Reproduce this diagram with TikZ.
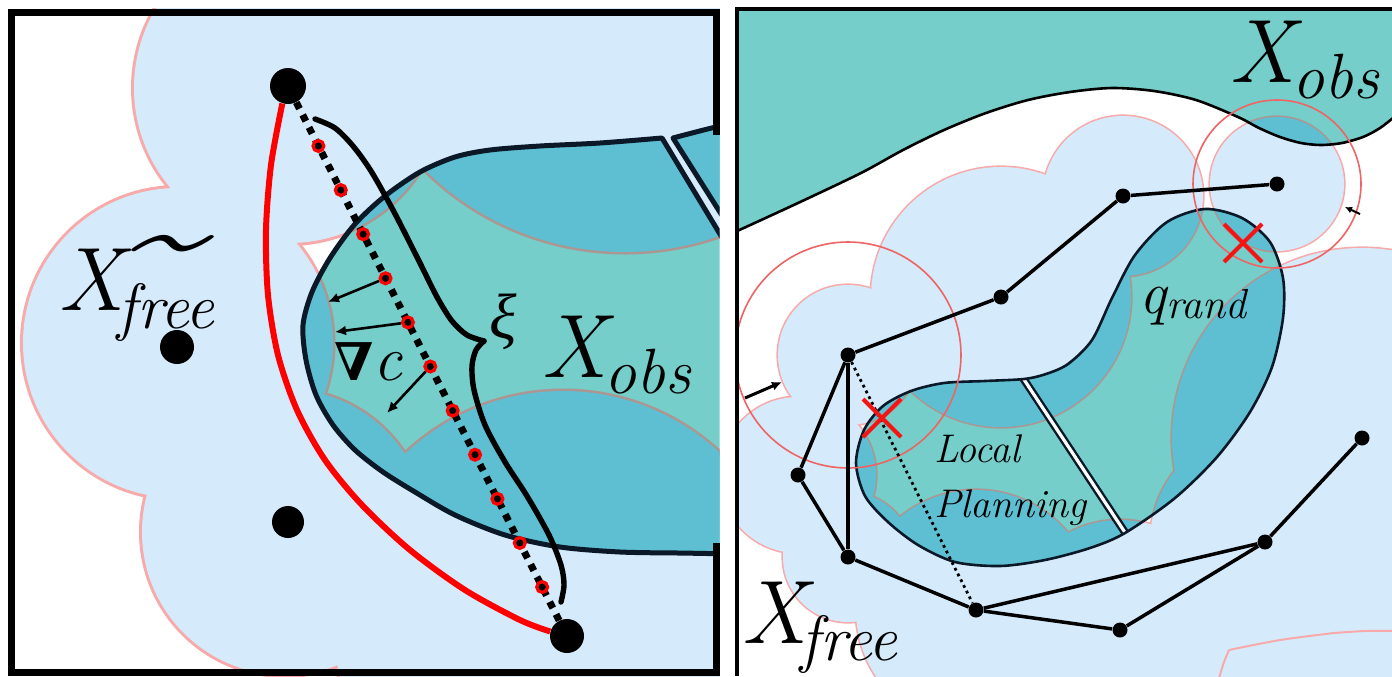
\documentclass[tikz,border=0pt]{standalone}
\usepackage{fontspec}
\usepackage{graphicx}
\newfontfamily\dejavuserif{DejaVu Serif}
\newfontfamily\libserif{Liberation Serif}
\usetikzlibrary{calc,arrows.meta,shapes.misc}
\definecolor{cloudblue}{RGB}{213,235,252}
\definecolor{cloudpink}{RGB}{248,170,170}
\definecolor{obsteal}{RGB}{117,206,201}
\definecolor{obscov}{RGB}{94,191,210}
\definecolor{arcbrown}{RGB}{172,150,146}
\definecolor{obsnavy}{RGB}{10,24,40}
\definecolor{ringred}{RGB}{238,100,100}
\definecolor{xred}{RGB}{245,20,20}
\tikzset{
 bigdot/.style={circle, fill=black, inner sep=0pt},
 gdot/.style={circle, fill=black, inner sep=0pt, minimum size=7.5pt},
 ringdot/.style={circle, fill=black, draw=red, line width=1.6pt, inner sep=0pt, minimum size=5.4pt},
 graphedge/.style={line width=1.75pt},
 dottededge/.style={line width=1.4pt, dash pattern=on 1.4pt off 1.8pt},
 sqdots/.style={line width=3.5pt, dash pattern=on 3.5pt off 3.5pt},
 redpath/.style={draw=red, line width=3pt},
 bracestyle/.style={line width=2.7pt, line cap=round, line join=round},
 gradarrow/.style={line width=1.3pt, -{Latex[length=5.5pt,width=5pt]}},
 pusharrow/.style={line width=1.5pt, -{Latex[length=5pt,width=4.5pt]}},
 tinyarrow/.style={line width=1pt, -{Latex[length=3.5pt,width=3.5pt]}},
 xmark/.style={cross out, draw=xred, line width=2pt, minimum size=17pt, inner sep=0pt},
 redring/.style={draw=ringred, line width=0.8pt},
 lbl/.style={inner sep=0pt, anchor=base west},
}
\def\lcirc{289/88/155,178/343/155,285/532/143,625/-33/285,563/621/230}
\def\rcirc{c1/70,c2/130,c3/80,c4/67,c5/78,c6/65,c7/120,c8/110,c9/115,c10/190,q3/165}
\def\obsA{(735,259) -- plot[smooth] coordinates {(662,138) (600,143) (540,146) (490,150) (455,157) (420,172) (385,196) (355,224) (330,258) (312,292) (303,325) (306,360) (316,395) (333,425) (355,450) (383,472) (415,492) (455,515) (505,535) (560,547) (620,552) (680,553)} -- (735,554) -- cycle}
\def\obsB{plot[smooth] coordinates {(673,138) (692,133) (716,127) (735,124)} -- (735,236) -- cycle}
\def\obsT{(730,0) -- (730,234) -- plot[smooth] coordinates {(735,232) (798,203) (861,173) (903,150) (944,130) (986,113) (1028,100) (1070,92) (1112,88) (1154,91) (1196,100) (1238,117) (1259,128) (1280,137) (1301,143) (1321,145) (1342,143) (1363,137) (1380,128) (1398,114)} -- (1400,0) -- cycle}
\def\kidney{plot[smooth cycle] coordinates {(1024,379) (985,381) (944,383) (911,391) (883,406) (864,430) (856,463) (865,496) (888,522) (918,545) (955,562) (1000,566) (1045,560) (1090,548) (1125,533) (1175,498) (1217,457) (1250,412) (1272,367) (1283,318) (1283,278) (1270,242) (1242,218) (1205,209) (1167,222) (1135,255) (1112,298) (1092,340) (1068,364) (1046,374)}}
\begin{document}
\begin{tikzpicture}[x=0.5pt,y=-0.5pt]
\useasboundingbox (0,0) rectangle (1392,676);
\fill[white] (0,0) rectangle (1392,676);

%================ LEFT PANEL ================
\begin{scope}
 \clip (7,8) rectangle (719.5,676);
 \foreach \cx/\cy/\rr in \lcirc {\draw[cloudpink, line width=3pt] (\cx,\cy) circle[radius=\rr];}
 \foreach \cx/\cy/\rr in \lcirc {\fill[cloudblue] (\cx,\cy) circle[radius=\rr];}
 \begin{scope}
  \clip \obsA;
  \fill[obsteal] (0,0) rectangle (740,676);
  \foreach \cx/\cy/\rr in \lcirc {\draw[arcbrown, line width=2.5pt] (\cx,\cy) circle[radius=\rr];}
  \foreach \cx/\cy/\rr in \lcirc {\fill[obscov] (\cx,\cy) circle[radius=\rr];}
 \end{scope}
 \begin{scope}
  \clip \obsB;
  \fill[obsteal] (0,0) rectangle (740,676);
  \foreach \cx/\cy/\rr in \lcirc {\draw[arcbrown, line width=2.5pt] (\cx,\cy) circle[radius=\rr];}
  \foreach \cx/\cy/\rr in \lcirc {\fill[obscov] (\cx,\cy) circle[radius=\rr];}
 \end{scope}
 \draw[obsnavy, line width=2.5pt, line join=round] \obsA;
 \draw[obsnavy, line width=2.5pt, line join=round] \obsB;
\end{scope}
\draw[black, line width=3.5pt] (716,135) -- (716,12) -- (11,12) -- (11,672) -- (716,672) -- (716,543);

\node[bigdot, minimum size=18pt] (ta) at (288,86) {};
\node[bigdot, minimum size=17pt] (bot) at (567,636) {};
\node[bigdot, minimum size=17pt] (d1) at (177,347) {};
\node[bigdot, minimum size=16pt] (d2) at (288,522) {};

\draw[redpath] plot[smooth] coordinates {(ta.252) (271,165) (266,230) (268,295) (278,355) (297,410) (325,460) (362,505) (410,550) (465,590) (520,620) (bot.165)};
\draw[sqdots] (ta) -- (bot);
\draw[bracestyle] plot[smooth] coordinates {(315,119) (335,128) (353,146) (371,171) (393,210) (417,257) (437,297) (452,321) (467,335) (484,341)};
\draw[bracestyle] plot[smooth] coordinates {(484,341) (476,350) (472,366) (474,390) (485,425) (505,462) (527,496) (549,535) (561,565) (564,585) (561,602)};
\foreach \k in {0,...,10} \node[ringdot] (rd\k) at ($(ta)!{0.109+0.0802*\k}!(bot)$) {};
\coordinate (g1) at (328,302);
\coordinate (g2) at (335,332);
\coordinate (g3) at (387,413);
\draw[gradarrow] (rd3) -- (g1);
\draw[gradarrow] (rd4) -- (g2);
\draw[gradarrow] (rd5) -- (g3);

\node[lbl] (lxfree) at (58,310) {\fontsize{45}{45}\selectfont\itshape\rlap{\hspace{5pt}\raisebox{-18pt}{\scalebox{2.9}[1.9]{\char"02DC}}}X\kern-3pt\raisebox{-9pt}{\fontsize{32}{32}\selectfont free}};
\node[lbl] (lnabla) at (334,380) {{\fontsize{26}{26}\selectfont\dejavuserif\bfseries ∇}{\fontsize{32}{32}\selectfont\itshape c}};
\node[inner sep=0pt] (lxi) at (503,322) {\fontsize{32}{32}\selectfont\libserif\itshape ξ};
\node[lbl] (lxobs) at (541,377) {\fontsize{45}{45}\selectfont\itshape X\kern-1pt\raisebox{-8pt}{\fontsize{32}{32}\selectfont obs}};

%================ RIGHT PANEL ================
\coordinate (c1) at (848,355);
\coordinate (c2) at (1001,297);
\coordinate (c3) at (1123,196);
\coordinate (c4) at (1277,184);
\coordinate (c5) at (798,475);
\coordinate (c6) at (848,557);
\coordinate (c7) at (976,610);
\coordinate (c8) at (1120,630);
\coordinate (c9) at (1265,542);
\coordinate (c10) at (1362,438);
\coordinate (q3) at (1350,760);
\begin{scope}
 \clip (737,9) rectangle (1392,676);
 \foreach \cc/\rr in \rcirc {\draw[cloudpink, line width=1.6pt] (\cc) circle[radius=\rr];}
 \foreach \cc/\rr in \rcirc {\fill[cloudblue] (\cc) circle[radius=\rr];}
 \draw[cloudpink, line width=1pt] plot[smooth] coordinates {(1219,678) (1224,662) (1229,650)};
 \draw[cloudpink, line width=1pt] plot[smooth] coordinates {(1229,650) (1280,640) (1334,633)};
 \draw[cloudpink, line width=1pt] plot[smooth] coordinates {(1334,633) (1365,631) (1395,631)};
 % top obstacle
 \fill[obsteal] \obsT;
 \begin{scope}
  \clip \obsT;
  \foreach \cc/\rr in \rcirc {\draw[arcbrown, line width=1.6pt] (\cc) circle[radius=\rr];}
  \foreach \cc/\rr in \rcirc {\fill[obscov] (\cc) circle[radius=\rr];}
 \end{scope}
 \draw[black, line width=1.3pt] \obsT;
 % kidney obstacle
 \fill[obsteal] \kidney;
 \begin{scope}
  \clip \kidney;
  \foreach \cc/\rr in \rcirc {\draw[arcbrown, line width=1.6pt] (\cc) circle[radius=\rr];}
  \foreach \cc/\rr in \rcirc {\fill[obscov] (\cc) circle[radius=\rr];}
  \draw[obsnavy, line width=4pt] (1019,372) -- (1130,540);
  \draw[white, line width=1.6pt] (1019,372) -- (1130,540);
 \end{scope}
 \draw[obsnavy, line width=1.3pt] \kidney;
 % shrinking radii
 \draw[redring] (c1) circle[radius=113];
 \draw[redring] (c4) circle[radius=84];
 \coordinate (pa1) at (745,398);
 \coordinate (pa2) at (782,382);
 \coordinate (pb1) at (1360,214);
 \coordinate (pb2) at (1345,207);
 \draw[pusharrow] (pa1) -- (pa2);
 \draw[tinyarrow] (pb1) -- (pb2);
\end{scope}
\draw[black, line width=2pt] (737,676) -- (737,9) -- (1395,9);

\node[gdot] (n1) at (c1) {};
\node[gdot] (n2) at (c2) {};
\node[gdot] (n3) at (c3) {};
\node[gdot] (n4) at (c4) {};
\node[gdot] (n5) at (c5) {};
\node[gdot] (n6) at (c6) {};
\node[gdot] (n7) at (c7) {};
\node[gdot] (n8) at (c8) {};
\node[gdot] (n9) at (c9) {};
\node[gdot] (n10) at (c10) {};
\foreach \a/\b in {n1/n2,n2/n3,n3/n4,n1/n5,n1/n6,n5/n6,n6/n7,n7/n9,n7/n8,n8/n9,n9/n10}
  \draw[graphedge] (\a) -- (\b);
\draw[dottededge] (n1) -- (n7);
\node[xmark] (x1) at (882,418) {};
\node[xmark] (x2) at (1243,243) {};

\node[lbl] (qrand) at (1139,313) {\fontsize{30}{30}\selectfont\itshape q\raisebox{-2.5pt}{\fontsize{21}{21}\selectfont rand}};
\node[anchor=north west, inner sep=0pt, align=left, font=\fontsize{20}{27.5}\selectfont\itshape] (lp) at (934,434) {Local\\Planning};
\node[lbl] (rxobs) at (1229,82) {\fontsize{45}{45}\selectfont\itshape X\kern-1pt\raisebox{-8pt}{\fontsize{32}{32}\selectfont obs}};
\node[lbl] (rxfree) at (741,643) {\fontsize{45}{45}\selectfont\itshape X\kern-3pt\raisebox{-8.5pt}{\fontsize{32}{32}\selectfont free}};
\end{tikzpicture}
\end{document}
